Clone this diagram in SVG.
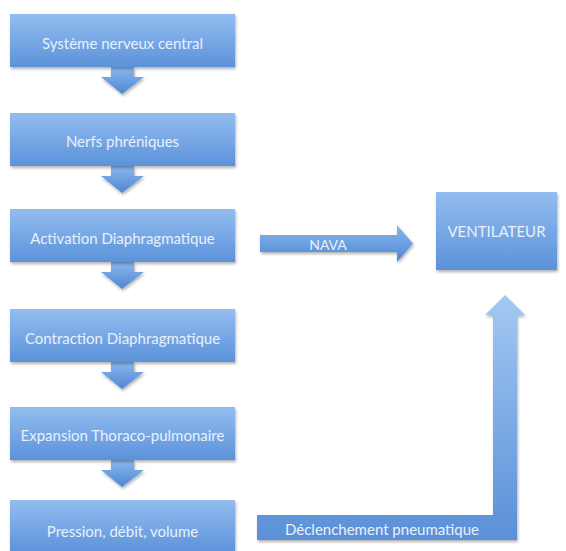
<svg xmlns="http://www.w3.org/2000/svg" width="566" height="551" viewBox="0 0 566 551">
<defs>
<linearGradient id="gBox" x1="0" y1="0" x2="0" y2="1">
<stop offset="0" stop-color="#93bdf0"/>
<stop offset="1" stop-color="#5c92da"/>
</linearGradient>
<linearGradient id="gArr" x1="0" y1="0" x2="0" y2="1">
<stop offset="0" stop-color="#8ab8ee"/>
<stop offset="1" stop-color="#4f87d3"/>
</linearGradient>
<linearGradient id="gUp" x1="0" y1="0" x2="0" y2="1">
<stop offset="0" stop-color="#a3c8f3"/>
<stop offset="1" stop-color="#5a90d8"/>
</linearGradient>
<filter id="sh" x="-10%" y="-10%" width="125%" height="130%">
<feDropShadow dx="1" dy="2" stdDeviation="1.5" flood-color="#000" flood-opacity="0.3"/>
</filter>
</defs>
<style>
.box{fill:url(#gBox);filter:url(#sh);}
.arr{fill:url(#gArr);filter:url(#sh);}
.t{font-family:"Lato","Liberation Sans",sans-serif;font-size:15px;fill:#e8f1fb;text-anchor:middle;dominant-baseline:central;}
</style>
<rect width="566" height="551" fill="#ffffff"/>
<g id="connectors">
<path class="arr" d="M111,67 L134,67 L134,77 L144,77 L122,94 L101,77 L111,77 Z"/>
<path class="arr" d="M111,166 L134,166 L134,176 L144,176 L122,193 L101,176 L111,176 Z"/>
<path class="arr" d="M111,262 L134,262 L134,272 L144,272 L122,289 L101,272 L111,272 Z"/>
<path class="arr" d="M111,362 L134,362 L134,372 L144,372 L122,389 L101,372 L111,372 Z"/>
<path class="arr" d="M111,460 L134,460 L134,470 L144,470 L122,487 L101,470 L111,470 Z"/>
<g id="nava">
<path class="arr" d="M260,235 L397,235 L397,225 L413,243.5 L397,262 L397,252 L260,252 Z"/>
<text class="t" x="328" y="244" style="font-size:14px">NAVA</text>
</g>
<g id="declenchement">
<path style="fill:url(#gUp);filter:url(#sh)" d="M257,515 L493,515 L493,315 L485,315 L505,295 L525,315 L517,315 L517,540 L257,540 Z"/>
<text class="t" x="382" y="529">Déclenchement pneumatique</text>
</g>
</g>
<g id="n1"><rect class="box" x="10" y="14" width="225" height="53"/><text class="t" x="122.5" y="43">Système nerveux central</text></g>
<g id="n2"><rect class="box" x="10" y="113" width="225" height="53"/><text class="t" x="122.5" y="141">Nerfs phréniques</text></g>
<g id="n3"><rect class="box" x="10" y="209" width="225" height="53"/><text class="t" x="122.5" y="238">Activation Diaphragmatique</text></g>
<g id="n4"><rect class="box" x="10" y="309" width="225" height="53"/><text class="t" x="122.5" y="338">Contraction Diaphragmatique</text></g>
<g id="n5"><rect class="box" x="10" y="407" width="225" height="53"/><text class="t" x="122.5" y="435">Expansion Thoraco-pulmonaire</text></g>
<g id="n6"><rect class="box" x="10" y="500" width="225" height="53"/><text class="t" x="122.5" y="531">Pression, débit, volume</text></g>
<g id="ventilateur"><rect class="box" x="436" y="192" width="121" height="78"/><text class="t" x="496.5" y="231">VENTILATEUR</text></g>
</svg>
